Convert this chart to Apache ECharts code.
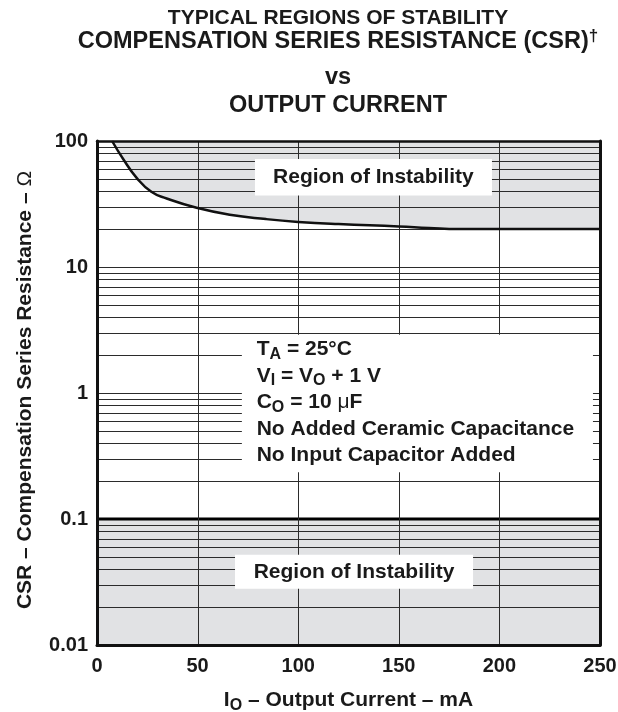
<!DOCTYPE html>
<html><head><meta charset="utf-8">
<script src="https://cdn.jsdelivr.net/npm/echarts@6/dist/echarts.min.js"></script>
<style>html,body{margin:0;padding:0;background:#fff}#c{width:618px;height:712px}</style>
</head><body><div id="c"></div>
<script>
// ---- data ----
const xTickValues = [0, 50, 100, 150, 200, 250];
const yTickLabels = ['0.01', '0.1', '1', '10', '100'];
const currentMA = [7.5, 13, 19.7, 27, 34.6, 49.5, 66, 84, 100, 120, 150, 165, 180, 250];
const csrOhm    = [100, 72, 51, 39.5, 35, 29.5, 26, 24, 22.8, 21.9, 21, 20.4, 20, 20];
const horizontalGrid = [0.02,0.03,0.04,0.05,0.06,0.07,0.08,0.09,0.1,
                        0.2,0.3,0.4,0.5,0.6,0.7,0.8,0.9,1,
                        2,3,4,5,6,7,8,9,10,
                        20,30,40,50,60,70,80,90];
const verticalGrid = [50, 100, 150, 200];
const lowerStabilityLimit = 0.1;
const lowerInstabilityRange = [0.01, 0.1];
// annotation boxes: [xFrom, xTo, yFrom, yTo] in data units
const boxRanges = [[78.5, 196.3, 37, 72], [68.6, 186.9, 0.028, 0.052], [72, 246.5, 0.235, 2.9]];
const boxLabels = ['Region of Instability', 'Region of Instability', ''];
const titleLines = ['TYPICAL REGIONS OF STABILITY', 'COMPENSATION SERIES RESISTANCE (CSR)', 'vs', 'OUTPUT CURRENT'];

const FONT = 'Liberation Sans';
const INK = '#1a1a1a';
const GRAY = '#e1e2e4';
const GRIDC = '#2b2b2b';

const chart = echarts.init(document.getElementById('c'), null, {renderer: 'canvas'});
const curveData = currentMA.map((x, i) => [x, csrOhm[i]]);

function hLine(params, api) {
  const cs = params.coordSys;
  const v = api.value(0);
  const y = api.coord([0, v])[1];
  const thick = Math.abs(v - lowerStabilityLimit) < 1e-9;
  const yy = thick ? Math.round(y) : Math.round(y) + 0.5;
  return {type: 'line', shape: {x1: cs.x, y1: yy, x2: cs.x + cs.width, y2: yy},
          style: {stroke: thick ? '#000' : GRIDC, lineWidth: thick ? 3 : 1}};
}
function vLine(params, api) {
  const cs = params.coordSys;
  const x = Math.round(api.coord([api.value(0), 1])[0]) + 0.5;
  return {type: 'line', shape: {x1: x, y1: cs.y, x2: x, y2: cs.y + cs.height},
          style: {stroke: GRIDC, lineWidth: 1}};
}
function boxItem(params, api) {
  const p0 = api.coord([api.value(0), api.value(3)]);
  const p1 = api.coord([api.value(1), api.value(2)]);
  const children = [{type: 'rect', shape: {x: p0[0], y: p0[1], width: p1[0] - p0[0], height: p1[1] - p0[1]},
                     style: {fill: '#fff'}}];
  const t = boxLabels[params.dataIndex];
  if (t) children.push({type: 'text', x: (p0[0] + p1[0]) / 2, y: (p0[1] + p1[1]) / 2,
    style: {text: t, align: 'center', verticalAlign: 'middle', fill: INK,
            fontFamily: FONT, fontWeight: 'bold', fontSize: 21}});
  return {type: 'group', children};
}
function bandItem(params, api) {
  const cs = params.coordSys;
  const y0 = api.coord([0, api.value(0)])[1];
  const y1 = api.coord([0, api.value(1)])[1];
  return {type: 'rect', shape: {x: cs.x, y: y1, width: cs.width, height: y0 - y1}, style: {fill: GRAY}};
}

const sub = {fontFamily: FONT, fontWeight: 'bold', fontSize: 16, lineHeight: 12, verticalAlign: 'bottom', fill: INK, color: INK};
const main = {fontFamily: FONT, fontWeight: 'bold', fontSize: 21, lineHeight: 26.5, fill: INK, color: INK};

const option = {
  animation: false,
  backgroundColor: '#fff',
  grid: {left: 97, right: 18, top: 141, bottom: 67, containLabel: false, outerBoundsMode: 'none'},
  xAxis: [{
    type: 'value', min: xTickValues[0], max: xTickValues[xTickValues.length - 1], interval: 50, z: 10,
    axisLine: {show: true, onZero: false, lineStyle: {color: '#111', width: 3}},
    axisTick: {show: false}, splitLine: {show: false},
    axisLabel: {margin: 11, fontFamily: FONT, fontWeight: 'bold', fontSize: 20, color: INK,
                formatter: v => String(v)}
  }, {
    type: 'value', position: 'top', min: 0, max: 250, z: 10,
    axisLine: {show: true, onZero: false, lineStyle: {color: '#111', width: 2.5}},
    axisTick: {show: false}, splitLine: {show: false}, axisLabel: {show: false}
  }],
  yAxis: [{
    type: 'log', logBase: 10, min: 0.01, max: 100, z: 10,
    axisLine: {show: true, onZero: false, lineStyle: {color: '#111', width: 3}},
    axisTick: {show: false}, splitLine: {show: false},
    axisLabel: {margin: 9, fontFamily: FONT, fontWeight: 'bold', fontSize: 20, color: INK,
                showMinLabel: true, showMaxLabel: true,
                formatter: v => yTickLabels[Math.round(Math.log10(v)) + 2]}
  }, {
    type: 'log', logBase: 10, min: 0.01, max: 100, position: 'right', z: 10,
    axisLine: {show: true, onZero: false, lineStyle: {color: '#111', width: 3}},
    axisTick: {show: false}, splitLine: {show: false}, axisLabel: {show: false}
  }],
  series: [
    {type: 'line', name: 'instabilityFill', data: curveData, z: 1, symbol: 'none',
     smooth: 0.5, lineStyle: {width: 0, opacity: 0},
     areaStyle: {origin: 'end', color: GRAY, opacity: 1}, silent: true},
    {type: 'custom', name: 'lowBand', z: 1, renderItem: bandItem, data: [lowerInstabilityRange],
     encode: {y: [0, 1]}, silent: true},
    {type: 'custom', name: 'hgrid', z: 3, renderItem: hLine, data: horizontalGrid.map(v => [v]),
     encode: {y: 0}, silent: true},
    {type: 'custom', name: 'vgrid', z: 3, renderItem: vLine, data: verticalGrid.map(v => [v]),
     encode: {x: 0}, silent: true},
    {type: 'custom', name: 'boxes', z: 4, renderItem: boxItem, data: boxRanges,
     encode: {x: [0, 1], y: [2, 3]}, silent: true},
    {type: 'line', name: 'CSR', data: curveData, z: 5, symbol: 'none',
     smooth: 0.5, lineStyle: {width: 2.5, color: '#111'}, silent: true}
  ],
  graphic: [
    {type: 'text', x: 338, y: 18, z: 100, style: {text: titleLines[0], align: 'center', verticalAlign: 'middle',
      fontFamily: FONT, fontWeight: 'bold', fontSize: 21, fill: INK}},
    {type: 'text', x: 338, y: 42, z: 100, style: {text: '{t|' + titleLines[1] + '}{d|†}', align: 'center', verticalAlign: 'middle',
      rich: {t: {fontFamily: FONT, fontWeight: 'bold', fontSize: 23.5, lineHeight: 28, fill: INK},
             d: {fontFamily: FONT, fontWeight: 'bold', fontSize: 17, lineHeight: 18, verticalAlign: 'top', fill: INK}}}},
    {type: 'text', x: 338, y: 78, z: 100, style: {text: titleLines[2], align: 'center', verticalAlign: 'middle',
      fontFamily: FONT, fontWeight: 'bold', fontSize: 23.5, fill: INK}},
    {type: 'text', x: 338, y: 105.5, z: 100, style: {text: titleLines[3], align: 'center', verticalAlign: 'middle',
      fontFamily: FONT, fontWeight: 'bold', fontSize: 23.5, fill: INK}},
    {type: 'text', x: 25, y: 390, rotation: Math.PI / 2, z: 100, style: {
      text: '{m|CSR – Compensation Series Resistance – }{o|Ω}', align: 'center', verticalAlign: 'middle',
      rich: {m: {fontFamily: FONT, fontWeight: 'bold', fontSize: 21, fill: INK},
             o: {fontFamily: FONT, fontWeight: 'normal', fontSize: 21, fill: INK}}}},
    {type: 'text', x: 348.5, y: 700, z: 100, style: {
      text: '{m|I}{s|O}{m| – Output Current – mA}', align: 'center', verticalAlign: 'middle',
      rich: {m: main, s: sub}}},
    {type: 'text', x: 256.7, y: 336, z: 100, style: {
      text: ['{m|T}{s|A}{m| = 25°C}', '{m|V}{s|I}{m| = V}{s|O}{m| + 1 V}', '{m|C}{s|O}{m| = 10 }{u|μ}{m|F}',
             '{m|No Added Ceramic Capacitance}', '{m|No Input Capacitor Added}'].join('\n'),
      align: 'left', verticalAlign: 'top',
      rich: {m: main, s: sub, u: Object.assign({}, main, {fontWeight: 'normal'})}}}
  ]
};
chart.setOption(option);
</script></body></html>
